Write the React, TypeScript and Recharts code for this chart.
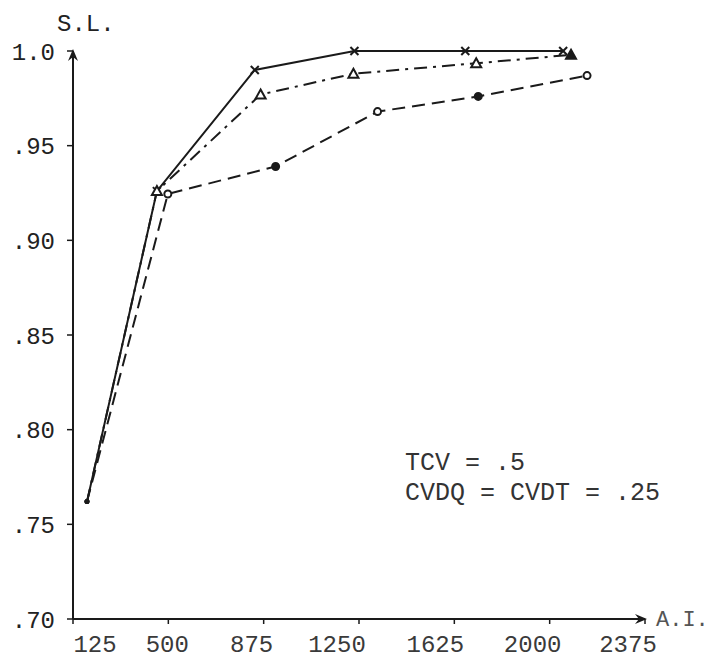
import * as React from 'react';
import { LineChart, Line, XAxis, YAxis } from 'recharts';

// A.I. (x) vs S.L. (y), three policies
const solidX = [180, 455, 840, 1232, 1668, 2053];
const solidY = [0.762, 0.926, 0.99, 1.0, 1.0, 1.0];

const dashDotX = [180, 455, 863, 1228, 1711, 2084];
const dashDotY = [0.762, 0.926, 0.977, 0.988, 0.9935, 0.998];

const dashedX = [180, 498, 922, 1323, 1719, 2147];
const dashedY = [0.762, 0.9245, 0.939, 0.968, 0.976, 0.987];

const xTicks = [125, 500, 875, 1250, 1625, 2000, 2375];
const yTicks = [0.7, 0.75, 0.8, 0.85, 0.9, 0.95, 1.0];
const yTickLabels = ['.70', '.75', '.80', '.85', '.90', '.95', '1.0'];

const notes = ['TCV = .5', 'CVDQ = CVDT = .25'];

const toRows = (xs: number[], ys: number[]) => xs.map((x, i) => ({ x, y: ys[i] }));
const solidData = toRows(solidX, solidY);
const dashDotData = toRows(dashDotX, dashDotY);
const dashedData = toRows(dashedX, dashedY);

const FONT = '"Liberation Mono", "DejaVu Sans Mono", monospace';
const INK = '#1a1a1a';

// typewriter labels sit a little off their ticks
const xLabelNudge = [22, -1, -12, -22, -19, -17, -17];

function XTick(props: any) {
  const { x, y, payload, index } = props;
  return (
    <text x={x + (xLabelNudge[index] ?? 0)} y={y + 26} textAnchor="middle" fontFamily={FONT} fontSize={24} fill="#3a3a3a">
      {payload.value}
    </text>
  );
}

function crossDot(props: any) {
  const { cx, cy, index } = props;
  if (index === 0) return <circle key={index} cx={cx} cy={cy} r={2.5} fill={INK} />;
  return (
    <g key={index} stroke={INK} strokeWidth={2}>
      <line x1={cx - 4} y1={cy - 4} x2={cx + 4} y2={cy + 4} />
      <line x1={cx - 4} y1={cy + 4} x2={cx + 4} y2={cy - 4} />
    </g>
  );
}

function triangleDot(props: any) {
  const { cx, cy, index } = props;
  if (index === 0) return <circle key={index} cx={cx} cy={cy} r={2.5} fill={INK} />;
  const filled = index === 5;
  return (
    <path
      key={index}
      d={`M${cx},${cy - 5} L${cx + 5},${cy + 4} L${cx - 5},${cy + 4} Z`}
      fill={filled ? INK : '#fff'}
      stroke={INK}
      strokeWidth={2}
    />
  );
}

function circleDot(props: any) {
  const { cx, cy, index } = props;
  if (index === 0) return <circle key={index} cx={cx} cy={cy} r={2.5} fill={INK} />;
  const filled = index === 2 || index === 4;
  return <circle key={index} cx={cx} cy={cy} r={3.5} fill={filled ? INK : '#fff'} stroke={INK} strokeWidth={2} />;
}

export default function App() {
  return (
    <div style={{ position: 'absolute', left: 0, top: 0, background: '#fff' }}>
      <LineChart width={726} height={658} margin={{ top: 51, right: 81, left: 13, bottom: 9 }}>
        <defs>
          <marker id="arrow" viewBox="0 0 12 12" refX="10" refY="6" markerWidth="12" markerHeight="12" markerUnits="userSpaceOnUse" orient="auto-start-reverse">
            <path d="M0,1 L12,6 L0,11 L4,6 Z" fill={INK} />
          </marker>
        </defs>
        <XAxis
          type="number"
          dataKey="x"
          height={30}
          domain={[125, 2375]}
          ticks={xTicks}
          allowDuplicatedCategory={false}
          axisLine={{ stroke: INK, strokeWidth: 2, markerEnd: 'url(#arrow)' } as any}
          tickLine={{ stroke: INK, strokeWidth: 1.5 }}
          tickSize={5}
          tick={<XTick />}
          interval={0}
        />
        <YAxis
          type="number"
          dataKey="y"
          width={60}
          domain={[0.7, 1.0]}
          ticks={yTicks}
          tickFormatter={(v: number) => yTickLabels[yTicks.findIndex((t) => Math.abs(t - v) < 1e-6)] ?? ''}
          axisLine={{ stroke: INK, strokeWidth: 2, markerStart: 'url(#arrow)' } as any}
          tickLine={{ stroke: INK, strokeWidth: 1.5 }}
          tickSize={6}
          tickMargin={12}
          tick={{ fill: '#222', fontSize: 24, fontFamily: FONT }}
          interval={0}
        />
        <Line data={solidData} dataKey="y" type="linear" stroke={INK} strokeWidth={2} dot={crossDot} isAnimationActive={false} />
        <Line data={dashDotData} dataKey="y" type="linear" stroke={INK} strokeWidth={2} strokeDasharray="13 6 3 6" dot={triangleDot} isAnimationActive={false} />
        <Line data={dashedData} dataKey="y" type="linear" stroke={INK} strokeWidth={2} strokeDasharray="13 7" dot={circleDot} isAnimationActive={false} />
        <text x={57} y={31} fontFamily={FONT} fontSize={24} fill="#222">S.L.</text>
        <text x={656} y={626} fontFamily={FONT} fontSize={22} fill="#555">A.I.</text>
        {notes.map((n, i) => (
          <text key={n} x={405} y={470 + i * 30} fontFamily={FONT} fontSize={25} fill="#333">{n}</text>
        ))}
      </LineChart>
    </div>
  );
}
